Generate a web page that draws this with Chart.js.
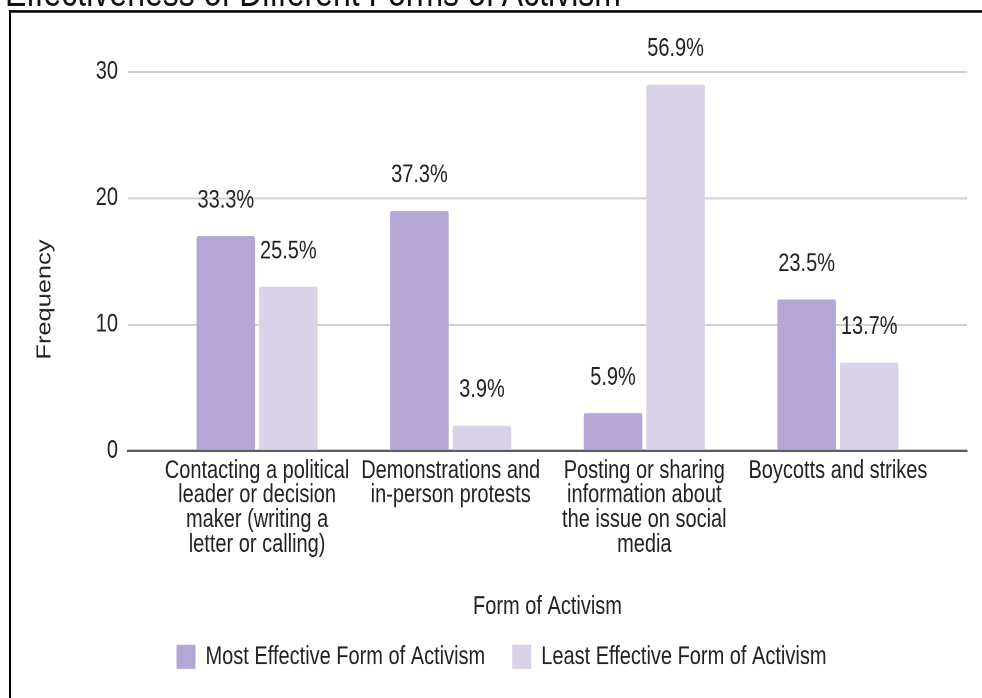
<!DOCTYPE html>
<html>
<head>
<meta charset="utf-8">
<script src="https://cdn.jsdelivr.net/npm/chart.js@4.4.1/dist/chart.umd.min.js"></script>
<style>
  html, body { margin: 0; padding: 0; background: #fff; overflow: hidden; width: 982px; height: 698px; }
  /* the page is laid out at a compressed height and stretched vertically */
  #page { position: absolute; left: 0; top: 0; width: 982px; height: 550px; transform-origin: 0 0; transform: scaleY(1.27); }
  #heading { position: absolute; left: 5px; top: -22px; font: 32px/32px 'Liberation Sans', Arial, sans-serif; color: #111; white-space: nowrap; }
  #frame { position: absolute; left: 9px; top: 8px; width: 1100px; height: 700px; border-left: 2px solid #000; border-top: 2px solid #000; }
  #chart { position: absolute; left: 11px; top: 10px; }
</style>
</head>
<body>
<div id="page">
  <div id="heading">Effectiveness of Different Forms of Activism</div>
  <div id="frame"></div>
  <canvas id="chart" width="971" height="540"></canvas>
</div>
<script>
// Survey answers: how many respondents picked each form of activism
const categories = [
  ['Contacting a political', 'leader or decision', 'maker (writing a', 'letter or calling)'],
  ['Demonstrations and', 'in-person protests'],
  ['Posting or sharing', 'information about', 'the issue on social', 'media'],
  ['Boycotts and strikes']
];
const seriesNames = ['Most Effective Form of Activism', 'Least Effective Form of Activism'];
const mostEffective = [17, 19, 3, 12];
const leastEffective = [13, 2, 29, 7];
const yTicks = [0, 10, 20, 30];
const xTitle = 'Form of Activism';
const yTitle = 'Frequency';

const FONT = "'Liberation Sans', Arial, sans-serif";
const TEXT = '#222222';
Chart.defaults.font.family = FONT;
Chart.defaults.color = TEXT;

// share of all answers in a series, e.g. 17 of 51 -> "33.3%"
function pctLabels(values) {
  const total = values.reduce((a, b) => a + b, 0);
  return values.map(v => (v / total * 100).toFixed(1) + '%');
}

const seriesValues = [mostEffective, leastEffective];
const seriesColors = ['#b4a7d6', '#d9d2e9'];
const seriesLabels = seriesValues.map(pctLabels);

const valueLabels = {
  id: 'valueLabels',
  afterDatasetsDraw(chart) {
    const ctx = chart.ctx;
    ctx.save();
    ctx.font = '20px ' + FONT;
    ctx.fillStyle = TEXT;
    ctx.textAlign = 'center';
    ctx.textBaseline = 'middle';
    chart.data.datasets.forEach((ds, d) => {
      chart.getDatasetMeta(d).data.forEach((bar, i) => {
        ctx.fillText(seriesLabels[d][i], bar.x, bar.y - 28);
      });
    });
    ctx.restore();
  }
};

// vertical axis title, set a little below the middle of the axis
const axisTitleY = {
  id: 'axisTitleY',
  afterDraw(chart) {
    const a = chart.chartArea;
    const ctx = chart.ctx;
    ctx.save();
    ctx.translate(34, (a.top + a.bottom) / 2 + 30);
    ctx.rotate(-Math.PI / 2);
    ctx.font = '20px ' + FONT;
    ctx.fillStyle = TEXT;
    ctx.textAlign = 'center';
    ctx.textBaseline = 'middle';
    ctx.fillText(yTitle, 0, 0);
    ctx.restore();
  }
};

new Chart(document.getElementById('chart'), {
  type: 'bar',
  data: {
    datasets: seriesValues.map((vals, d) => ({
      label: seriesNames[d],
      data: vals.map((v, i) => ({ x: i, y: v })),
      backgroundColor: seriesColors[d],
      borderWidth: 0,
      borderRadius: 2,
      categoryPercentage: 0.646,
      barPercentage: 0.936
    }))
  },
  options: {
    responsive: false,
    animation: false,
    devicePixelRatio: 2,
    events: [],
    layout: { padding: { left: 25, right: 15, top: 46.7, bottom: 12.7 } },
    plugins: {
      tooltip: { enabled: false },
      title: { display: false },
      legend: {
        position: 'bottom',
        labels: { boxWidth: 19, boxHeight: 19, padding: 27, color: TEXT, font: { size: 20, family: FONT } }
      }
    },
    scales: {
      x: {
        type: 'linear',
        min: -2 / 3,
        max: 3 + 2 / 3,
        offset: false,
        grid: { display: false, drawTicks: false, offset: false },
        border: { display: true, color: '#5a5a5a', width: 2 },
        afterBuildTicks: s => { s.ticks = categories.map((c, i) => ({ value: i })); },
        ticks: {
          autoSkip: false, maxRotation: 0, minRotation: 0, padding: 6, color: TEXT,
          font: { size: 20, family: FONT, lineHeight: 0.97 },
          callback: v => categories[v]
        },
        title: { display: true, text: xTitle, color: TEXT, font: { size: 20, family: FONT }, padding: { top: 0, bottom: -9.7 } },
        afterFit: s => { s.height = 125.2; }
      },
      y: {
        min: 0,
        max: 30,
        afterBuildTicks: s => { s.ticks = yTicks.map(v => ({ value: v })); },
        ticks: { padding: 10, color: TEXT, font: { size: 20, family: FONT } },
        grid: { color: c => (c.tick && c.tick.value === 0 ? 'rgba(0,0,0,0)' : '#cfcfcf'), lineWidth: 1.5, drawTicks: false },
        border: { display: false },
        afterFit: s => { s.width = 92; }
      }
    }
  },
  plugins: [valueLabels, axisTitleY]
});
</script>
</body>
</html>
